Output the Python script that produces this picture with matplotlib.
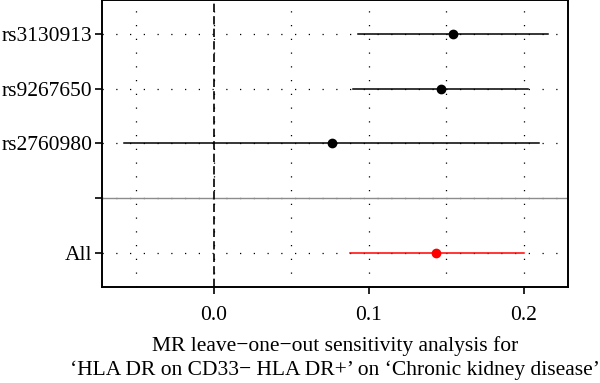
import matplotlib.pyplot as plt

snps = ['rs3130913', 'rs9267650', 'rs2760980', '', 'All']
b = [0.1542, 0.1465, 0.0761, None, 0.1437]
lo = [0.0933, 0.0897, -0.0577, None, 0.0879]
hi = [0.2159, 0.2030, 0.2101, None, 0.2000]
ypos = [5, 4, 3, 2, 1]

plt.rcParams['font.family'] = ['Liberation Serif', 'DejaVu Serif']

fig = plt.figure(figsize=(6, 3.83), dpi=100)
ax = fig.add_axes([0.1705, 0.2514, 0.7767, 0.7486])

dots = dict(color='black', linewidth=0.9, linestyle=(0, (1, 10)), zorder=0)
for xv in [-0.05, 0.0, 0.05, 0.1, 0.15, 0.2]:
    ax.axvline(xv, **dots)
for yv in ypos:
    ax.axhline(yv, **dots)

ax.axhline(2, color='#8c8c8c', linewidth=1.0, zorder=1)
ax.axvline(0, color='black', linewidth=1.2, linestyle=(0, (5, 2.5)), zorder=1)

for y, m, l, h in zip(ypos, b, lo, hi):
    if m is None:
        continue
    col = 'red' if y == 1 else 'black'
    ax.plot([l, h], [y, y], color=col, linewidth=1.1, zorder=2)
    ax.plot(m, y, 'o', color=col, markersize=6, zorder=3)

ax.set_xlim(-0.0719, 0.2288)
ax.set_ylim(0.384, 5.616)
ax.set_xticks([0.0, 0.1, 0.2])
ax.set_xticklabels(['0.0', '0.1', '0.2'])
ax.set_yticks(ypos)
ax.set_yticklabels(snps)
ax.tick_params(labelsize=15.5, length=5, width=1.2, color='black')
ax.tick_params(axis='x', pad=9)
ax.tick_params(axis='y', pad=2)

for s in ax.spines.values():
    s.set_linewidth(1.4)

ax.set_xlabel('MR leave\u2212one\u2212out sensitivity analysis for\n'
              '\u2018HLA DR on CD33\u2212 HLA DR+\u2019 on \u2018Chronic kidney disease\u2019',
              fontsize=15.5, labelpad=8, linespacing=1.33)

fig.savefig('out.png', dpi=100)
